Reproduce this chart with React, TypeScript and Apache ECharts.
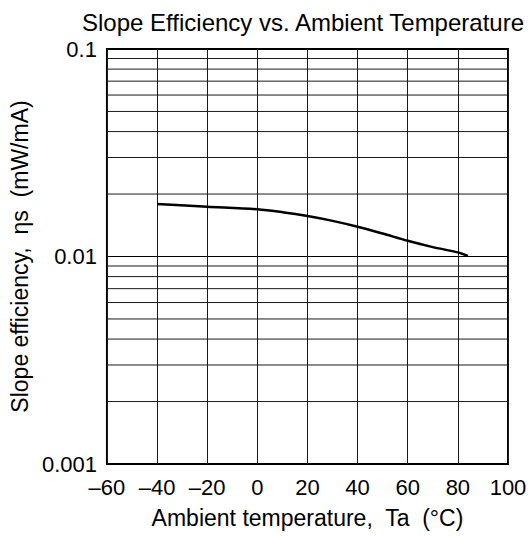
import React, { useEffect, useRef } from "react";
import * as echarts from "echarts";

const temperature = [-40, -20, 0, 10, 20, 30, 40, 50, 60, 70, 80, 84];
const slopeEfficiency = [0.0179, 0.01738, 0.01689, 0.01635, 0.01567, 0.01485, 0.01392, 0.0129, 0.01191, 0.0111, 0.01047, 0.01006];
const xTicks = [-60, -40, -20, 0, 20, 40, 60, 80, 100];
const yMajorTicks = [0.001, 0.01, 0.1];
const yMinorLines = [0.002, 0.003, 0.004, 0.005, 0.006, 0.007, 0.008, 0.009, 0.02, 0.03, 0.04, 0.05, 0.06, 0.07, 0.08, 0.09];

const FONT = "Liberation Sans, Arial, Helvetica, sans-serif";

export default function App() {
  const ref = useRef<HTMLDivElement>(null);
  useEffect(() => {
    if (!ref.current) return;
    const chart = echarts.init(ref.current, undefined, { renderer: "svg" });
    const xMin = xTicks[0];
    const xMax = xTicks[xTicks.length - 1];
    const minorSeries = yMinorLines.map((v) => ({
      type: "line",
      data: [
        [xMin, v],
        [xMax, v],
      ],
      symbol: "none",
      silent: true,
      lineStyle: { color: "#1a1a1a", width: 1 },
      z: 1,
    }));
    chart.setOption({
      animation: false,
      backgroundColor: "#ffffff",
      title: {
        text: "Slope Efficiency vs. Ambient Temperature",
        left: 298,
        textAlign: "center",
        top: 5,
        textStyle: { fontFamily: FONT, fontSize: 24, fontWeight: "normal", color: "#000" },
      },
      grid: {
        left: 94,
        right: 22,
        top: 49,
        bottom: 72,
        show: true,
        borderColor: "#000",
        borderWidth: 2,
      },
      xAxis: {
        type: "value",
        min: xMin,
        max: xMax,
        interval: 20,
        name: "Ambient temperature,  Ta  (°C)",
        nameLocation: "middle",
        nameGap: 42,
        nameTextStyle: { fontFamily: FONT, fontSize: 23, color: "#000" },
        axisLine: { show: false },
        axisTick: { show: false },
        axisLabel: {
          fontFamily: FONT,
          fontSize: 22,
          color: "#000",
          margin: 12,
          formatter: (v: number) => (v < 0 ? "–" + Math.abs(v) : String(v)),
        },
        splitLine: { show: true, lineStyle: { color: "#1a1a1a", width: 1 } },
      },
      yAxis: {
        type: "log",
        logBase: 10,
        min: yMajorTicks[0],
        max: yMajorTicks[yMajorTicks.length - 1],
        name: "Slope efficiency,  ηs  (mW/mA)",
        nameLocation: "middle",
        nameGap: 62,
        nameTextStyle: { fontFamily: FONT, fontSize: 23, color: "#000" },
        axisLine: { show: false },
        axisTick: { show: false },
        axisLabel: {
          fontFamily: FONT,
          fontSize: 22,
          color: "#000",
          margin: 10,
          formatter: (v: number) => {
            const m = yMajorTicks.find((t) => Math.abs(t - v) / t < 1e-6);
            return m !== undefined ? String(m) : "";
          },
        },
        splitLine: { show: true, lineStyle: { color: "#000", width: 1.2 } },
      },
      series: [
        ...minorSeries,
        {
          type: "line",
          data: temperature.map((t, i) => [t, slopeEfficiency[i]]),
          smooth: 0.3,
          showSymbol: false,
          symbol: "none",
          lineStyle: { color: "#000", width: 2.5 },
          z: 5,
        },
      ],
    });
    return () => chart.dispose();
  }, []);
  return <div ref={ref} style={{ position: "fixed", left: 0, top: 0, width: 530, height: 536 }} />;
}
